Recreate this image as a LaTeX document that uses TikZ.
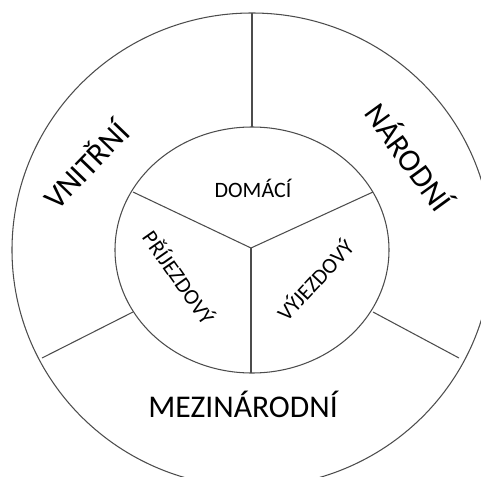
\documentclass[tikz,border=0pt]{standalone}
\usepackage{fontspec}
\setmainfont{Carlito}

\begin{document}
\begin{tikzpicture}[
    x=0.02cm, y=-0.02cm,
    ring/.style={draw=black!70, line width=0.6pt},
    bigtext/.style={font=\fontsize{18}{20}\selectfont, text height=11.6pt, text depth=0pt, inner sep=0pt},
    smalltext/.style={font=\fontsize{12.5}{14}\selectfont, text height=8pt, text depth=0pt, inner sep=0pt}
]
\useasboundingbox (0,0) rectangle (481,477);
\clip (0,0) rectangle (481,477);

% kruhy
\coordinate (mid) at (252,250);
\draw[ring] (mid) ellipse [x radius=240, y radius=237];
\draw[ring] (mid) ellipse [x radius=137, y radius=123];

% deleni
\coordinate (hub) at (251,248);
\coordinate (inUL) at (133,192);
\coordinate (inUR) at (373,192);
\coordinate (inB) at (251,373);
\coordinate (inT) at (252,127);
\coordinate (outT) at (252,13);
\coordinate (inLL) at (133,312);
\coordinate (outLL) at (42,358);
\coordinate (inLR) at (373,312);
\coordinate (outLR) at (459,358);

\draw[ring] (hub) -- (inUL);
\draw[ring] (hub) -- (inUR);
\draw[ring] (hub) -- (inB);
\draw[ring] (inT) -- (outT);
\draw[ring] (inLL) -- (outLL);
\draw[ring] (inLR) -- (outLR);

% popisky
\node[smalltext] (domaci) at (253,190) {DOMÁCÍ};
\node[smalltext, rotate=-55] (prijezd) at (178,278) {PŘÍJEZDOVÝ};
\node[smalltext, rotate=47] (vyjezd) at (316,281) {VÝJEZDOVÝ};
\node[bigtext, rotate=46] (vnitrni) at (87,166) {VNITŘNÍ};
\node[bigtext, rotate=-54] (narodni) at (408,158) {NÁRODNÍ};
\node[bigtext] (mezinar) at (243,407) {MEZINÁRODNÍ};
\end{tikzpicture}
\end{document}
